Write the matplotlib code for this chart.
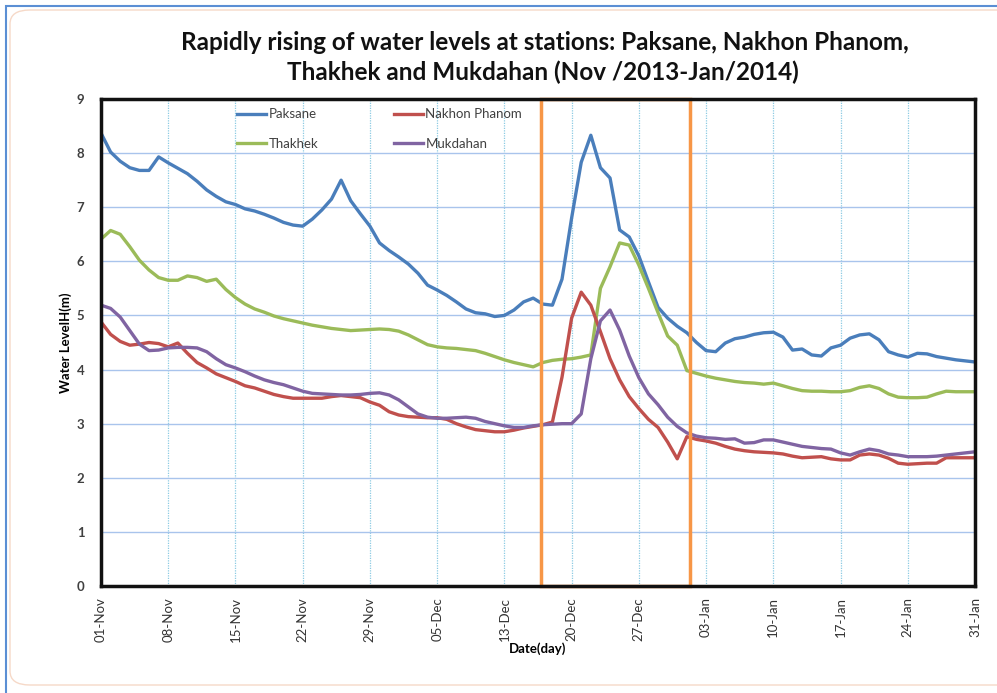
import numpy as np
import matplotlib
matplotlib.use("Agg")
import matplotlib.pyplot as plt
from matplotlib.patches import Rectangle, FancyBboxPatch

plt.rcParams['font.family'] = ['Lato', 'DejaVu Sans']

# ---------------- data ----------------
tick_labels = ["01-Nov", "08-Nov", "15-Nov", "22-Nov", "29-Nov", "05-Dec", "13-Dec",
               "20-Dec", "27-Dec", "03-Jan", "10-Jan", "17-Jan", "24-Jan", "31-Jan"]

paksane = [8.37, 8.02, 7.85, 7.73, 7.68, 7.68, 7.93, 7.82, 7.72, 7.62,
           7.48, 7.32, 7.20, 7.10, 7.05, 6.97, 6.93, 6.87, 6.80, 6.72,
           6.67, 6.65, 6.78, 6.95, 7.15, 7.50, 7.12, 6.88, 6.65, 6.34,
           6.20, 6.08, 5.95, 5.78, 5.56, 5.47, 5.37, 5.25, 5.12, 5.05,
           5.03, 4.98, 5.00, 5.10, 5.25, 5.32, 5.21, 5.19, 5.67, 6.80,
           7.83, 8.33, 7.73, 7.54, 6.58, 6.45, 6.10, 5.62, 5.15, 4.95,
           4.80, 4.68, 4.50, 4.35, 4.33, 4.49, 4.57, 4.60, 4.65, 4.68,
           4.69, 4.60, 4.36, 4.38, 4.27, 4.25, 4.40, 4.45, 4.58, 4.64,
           4.66, 4.55, 4.33, 4.27, 4.23, 4.30, 4.29, 4.24, 4.21, 4.18,
           4.16, 4.14]

nakhon_phanom = [4.88, 4.65, 4.52, 4.45, 4.47, 4.50, 4.48, 4.42, 4.49, 4.30,
                 4.13, 4.03, 3.92, 3.85, 3.78, 3.70, 3.66, 3.60, 3.54, 3.50,
                 3.47, 3.47, 3.47, 3.47, 3.50, 3.52, 3.50, 3.48, 3.40, 3.34,
                 3.22, 3.16, 3.13, 3.12, 3.11, 3.11, 3.08, 3.00, 2.94, 2.89,
                 2.87, 2.85, 2.85, 2.88, 2.92, 2.95, 2.98, 3.03, 3.86, 4.95,
                 5.43, 5.19, 4.70, 4.20, 3.81, 3.50, 3.28, 3.08, 2.93, 2.66,
                 2.35, 2.76, 2.71, 2.68, 2.64, 2.58, 2.53, 2.50, 2.48, 2.47,
                 2.46, 2.44, 2.40, 2.37, 2.38, 2.39, 2.35, 2.33, 2.33, 2.42,
                 2.44, 2.42, 2.36, 2.27, 2.25, 2.26, 2.27, 2.27, 2.37, 2.37,
                 2.37, 2.37]

thakhek = [6.41, 6.57, 6.50, 6.27, 6.02, 5.84, 5.70, 5.65, 5.65, 5.73,
           5.70, 5.63, 5.67, 5.48, 5.33, 5.21, 5.12, 5.06, 4.99, 4.94,
           4.90, 4.86, 4.82, 4.79, 4.76, 4.74, 4.72, 4.73, 4.74, 4.75,
           4.74, 4.71, 4.64, 4.55, 4.46, 4.42, 4.40, 4.39, 4.37, 4.35,
           4.30, 4.24, 4.18, 4.13, 4.09, 4.05, 4.13, 4.17, 4.19, 4.20,
           4.23, 4.27, 5.50, 5.90, 6.34, 6.30, 5.93, 5.50, 5.05, 4.62,
           4.45, 3.98, 3.93, 3.88, 3.84, 3.81, 3.78, 3.76, 3.75, 3.73,
           3.75, 3.70, 3.65, 3.61, 3.60, 3.60, 3.59, 3.59, 3.61, 3.67,
           3.70, 3.65, 3.55, 3.49, 3.48, 3.48, 3.49, 3.55, 3.60, 3.59,
           3.59, 3.59]

mukdahan = [5.19, 5.13, 4.97, 4.72, 4.47, 4.35, 4.36, 4.40, 4.41, 4.41,
            4.40, 4.33, 4.20, 4.09, 4.03, 3.96, 3.88, 3.81, 3.76, 3.72,
            3.66, 3.60, 3.56, 3.55, 3.54, 3.53, 3.53, 3.54, 3.56, 3.57,
            3.53, 3.44, 3.31, 3.18, 3.12, 3.10, 3.10, 3.11, 3.12, 3.10,
            3.04, 3.00, 2.96, 2.93, 2.93, 2.96, 2.98, 2.99, 3.00, 3.00,
            3.18, 4.20, 4.90, 5.10, 4.73, 4.25, 3.85, 3.55, 3.35, 3.12,
            2.95, 2.83, 2.77, 2.74, 2.73, 2.71, 2.72, 2.64, 2.65, 2.70,
            2.70, 2.66, 2.62, 2.58, 2.56, 2.54, 2.53, 2.46, 2.42, 2.48,
            2.53, 2.50, 2.44, 2.42, 2.39, 2.39, 2.39, 2.40, 2.42, 2.44,
            2.46, 2.48]

highlight_start = 45.85  # day index where the highlight box begins
highlight_end = 61.3     # day index where the highlight box ends

# ---------------- figure ----------------
W, H = 997, 693
fig = plt.figure(figsize=(W / 100, H / 100), dpi=100)

# outer chart frame
fig.patches.append(Rectangle((6 / W, -0.05), 1.2, 1 - 6 / H + 0.05, transform=fig.transFigure,
                             fill=False, edgecolor='#5b8fd4', linewidth=1.5, zorder=0))
fig.patches.append(FancyBboxPatch((10 / W, 8 / H), 1.1, 1 - 18 / H,
                                  boxstyle="round,pad=0,rounding_size=0.02",
                                  transform=fig.transFigure, fill=False,
                                  edgecolor='#f6d9c8', linewidth=1.0, zorder=0))

ax = fig.add_axes([101 / W, (H - 586) / H, 874 / W, 487 / H])

x = np.arange(len(paksane))
colors = {'Paksane': '#4a7ebb', 'Nakhon Phanom': '#c0504d',
          'Thakhek': '#9bbb59', 'Mukdahan': '#8064a2'}

lw = 2.4
ax.plot(x, paksane, color=colors['Paksane'], lw=lw, label='Paksane', zorder=3)
ax.plot(x, thakhek, color=colors['Thakhek'], lw=lw, label='Thakhek', zorder=3)
ax.plot(x, nakhon_phanom, color=colors['Nakhon Phanom'], lw=lw, label='Nakhon Phanom', zorder=3)
ax.plot(x, mukdahan, color=colors['Mukdahan'], lw=lw, label='Mukdahan', zorder=3)

ax.add_patch(Rectangle((highlight_start, 0), highlight_end - highlight_start, 9,
                       fill=False, edgecolor='#f79646', linewidth=2.5, zorder=5, clip_on=False))

ax.set_xlim(0, len(paksane) - 1)
ax.set_ylim(0, 9)
ax.set_yticks(range(0, 10))
ax.set_xticks(range(0, len(paksane), 7))
ax.set_xticklabels(tick_labels, rotation=90, fontsize=9.5, color='#333333')
ax.tick_params(axis='y', labelsize=9.5, labelcolor='#404040', length=0, pad=12)
ax.tick_params(axis='x', length=0, pad=8)
for t in ax.get_yticklabels():
    t.set_fontweight('bold')

ax.grid(axis='y', color='#a9c4ec', linewidth=1.0, linestyle='-', zorder=1)
ax.grid(axis='x', color='#8ccbe3', linewidth=0.9, linestyle=(0, (1, 1)), zorder=1)
ax.set_axisbelow(True)

for s in ax.spines.values():
    s.set_linewidth(2.5)
    s.set_color('#111111')
    s.set_zorder(6)

ax.set_ylabel('Water LevelH(m)', fontsize=9.5, fontweight='bold', labelpad=3)
ax.set_xlabel('Date(day)', fontsize=9.5, fontweight='bold', labelpad=0)

# legend (2 columns, no frame)
handles, labels = ax.get_legend_handles_labels()
leg = ax.legend(handles, labels,
                ncol=2, loc='upper left', bbox_to_anchor=(0.142, 1.005),
                frameon=False, fontsize=9.5, handlelength=2.2, handletextpad=0.2,
                columnspacing=5.7, labelspacing=1.3)
for t in leg.get_texts():
    t.set_color('#404040')

fig.text(545 / W, 1 - 42 / H, 'Rapidly rising of water levels at stations: Paksane, Nakhon Phanom,',
         ha='center', va='center', fontsize=17.5, fontweight='bold', color='#111111')
fig.text(543 / W, 1 - 72 / H, 'Thakhek and Mukdahan (Nov /2013-Jan/2014)',
         ha='center', va='center', fontsize=17.5, fontweight='bold', color='#111111')

fig.savefig('out.png', dpi=100)
